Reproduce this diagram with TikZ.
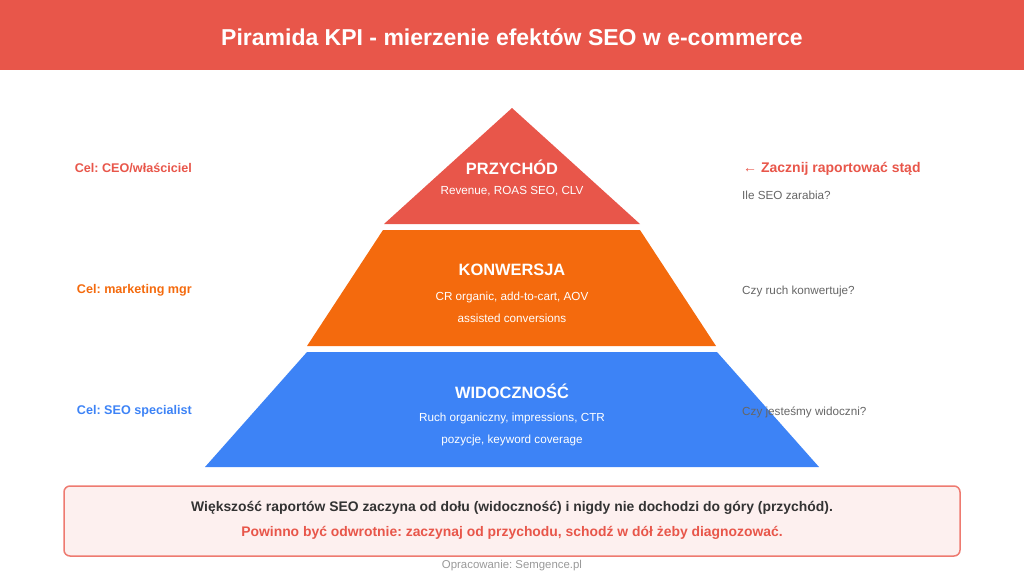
\documentclass[tikz,border=0pt]{standalone}
\usepackage{fontspec}
\setmainfont{Liberation Sans}
\frenchspacing
\definecolor{kpired}{HTML}{E8564A}
\definecolor{kpiorange}{HTML}{F46A0D}
\definecolor{kpiblue}{HTML}{3D83F6}
\definecolor{notefill}{HTML}{FDF0EF}
\definecolor{noteline}{HTML}{EE7A70}
\definecolor{textdark}{HTML}{333333}
\definecolor{textgray}{HTML}{666666}
\definecolor{footgray}{HTML}{999999}
\begin{document}
\begin{tikzpicture}[x=1pt,y=-1pt,
    every node/.style={inner sep=0pt},
    tiername/.style={font=\bfseries\fontsize{16.4}{19}\selectfont, text=white},
    metric/.style={font=\fontsize{11.7}{13}\selectfont, text=white},
    goal/.style={font=\bfseries\fontsize{12.6}{14}\selectfont, anchor=east},
    question/.style={font=\fontsize{11.7}{13}\selectfont, text=textgray, anchor=west}]
  \useasboundingbox (0,0) rectangle (1024,576);
  % header band
  \fill[kpired] (0,0) rectangle (1024,70);
  \node[font=\bfseries\fontsize{23}{27}\selectfont, text=white] (title) at (512,37.5) {Piramida KPI - mierzenie efektów SEO w e-commerce};
  % pyramid tiers
  \fill[kpired] (512,108) -- (640,224) -- (384,224) -- cycle;
  \fill[kpiorange] (383,230) -- (640,230) -- (716,346) -- (307,346) -- cycle;
  \fill[kpiblue] (307,352) -- (717,352) -- (819,467) -- (205,467) -- cycle;
  % tier labels
  \node[tiername] (przychod) at (512,167) {PRZYCHÓD};
  \node[metric] (przychodkpi) at (512,191) {Revenue, ROAS SEO, CLV};
  \node[tiername] (konwersja) at (512,270) {KONWERSJA};
  \node[metric] (konwersjakpi) at (512,297) {CR organic, add-to-cart, AOV};
  \node[metric] (konwersjakpib) at (512,318.5) {assisted conversions};
  \node[tiername] (widocznosc) at (512,391) {WIDOCZNOŚĆ};
  \node[metric] (widocznosckpi) at (512,418.5) {Ruch organiczny, impressions, CTR};
  \node[metric] (widocznosckpib) at (512,440.5) {pozycje, keyword coverage};
  % audience on the left
  \node[goal, text=kpired] (celceo) at (192,168.5) {Cel: CEO/właściciel};
  \node[goal, text=kpiorange] (celmgr) at (192,290.5) {Cel: marketing mgr};
  \node[goal, text=kpiblue] (celseo) at (192,411.5) {Cel: SEO specialist};
  % questions on the right
  \node[anchor=west, font=\bfseries\fontsize{14}{16}\selectfont, text=kpired] (start) at (743,168.5) {← Zacznij raportować stąd};
  \node[question] (pytprzychod) at (742,195) {Ile SEO zarabia?};
  \node[question] (pytkonwersja) at (742,291) {Czy ruch konwertuje?};
  \node[question] (pytwidocznosc) at (742,412) {Czy jesteśmy widoczni?};
  % note box
  \draw[fill=notefill, draw=noteline, line width=1.5pt, rounded corners=6pt] (64,486) rectangle (960,556);
  \node[font=\bfseries\fontsize{13.9}{16}\selectfont, text=textdark] (uwaga) at (512,507.5) {Większość raportów SEO zaczyna od dołu (widoczność) i nigdy nie dochodzi do góry (przychód).};
  \node[font=\bfseries\fontsize{13.9}{16}\selectfont, text=kpired] (wniosek) at (512,532.5) {Powinno być odwrotnie: zaczynaj od przychodu, schodź w dół żeby diagnozować.};
  % footer
  \node[font=\fontsize{11.4}{13}\selectfont, text=footgray] (zrodlo) at (512,565.5) {Opracowanie: Semgence.pl};
\end{tikzpicture}
\end{document}
